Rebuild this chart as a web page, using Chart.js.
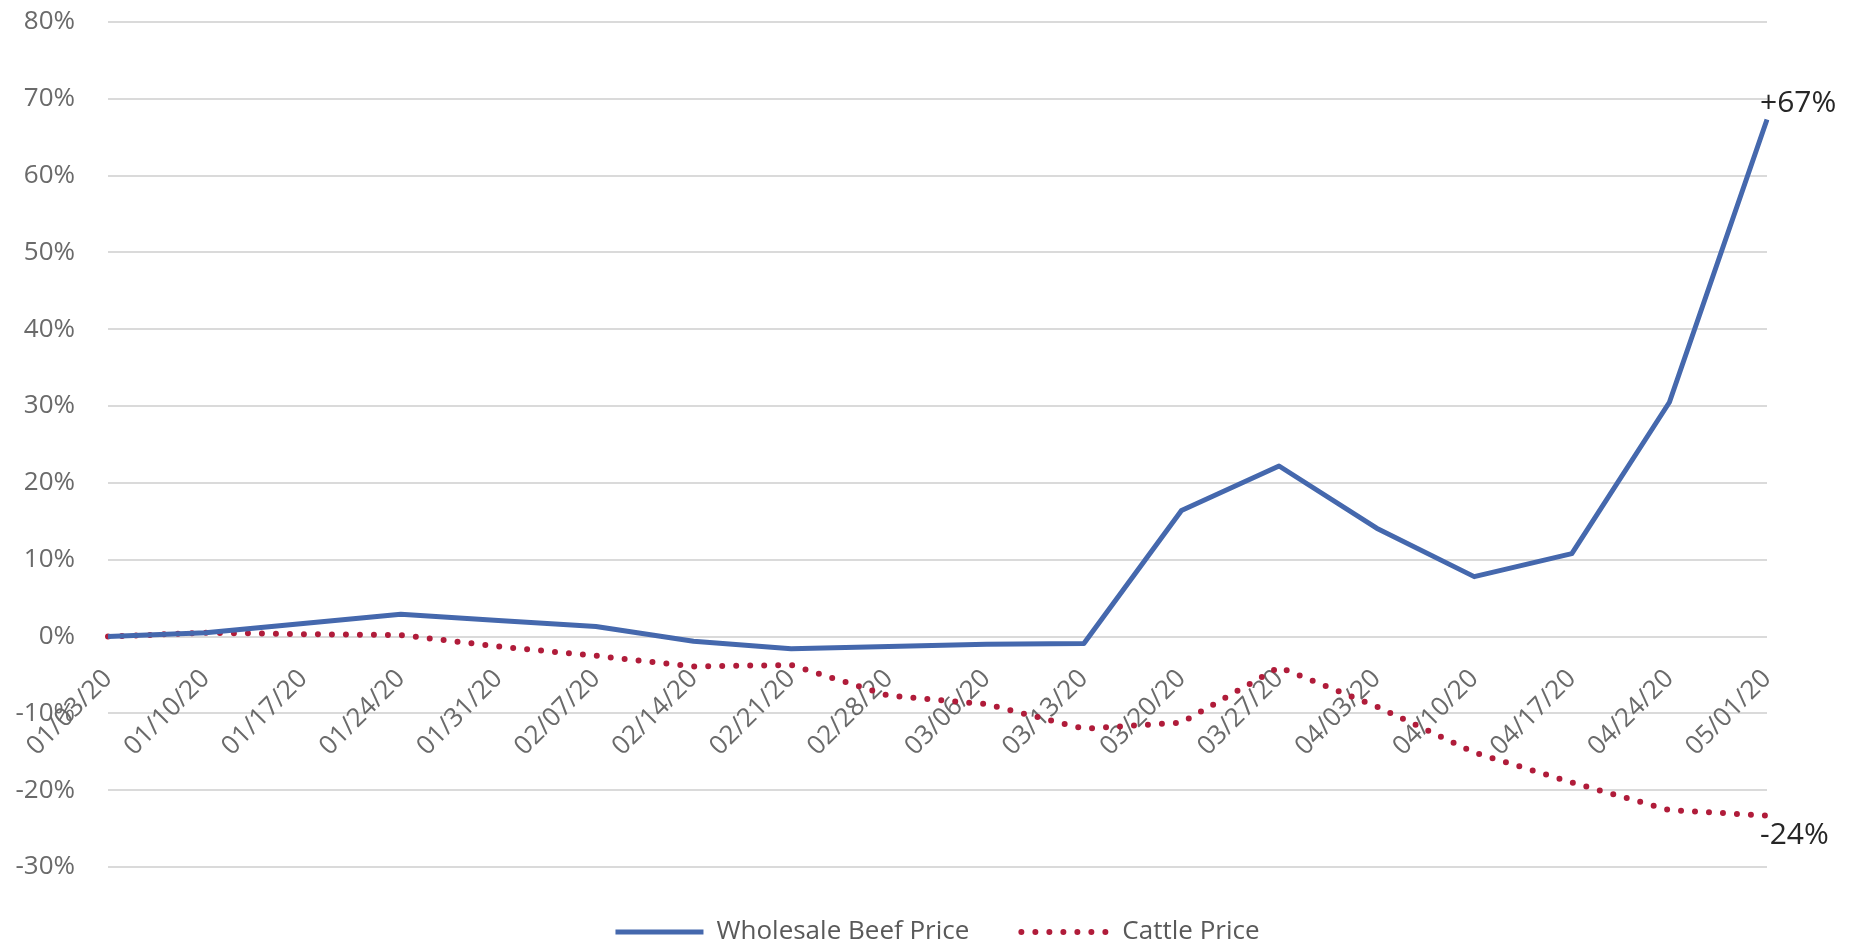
<!DOCTYPE html>
<html>
<head>
<meta charset="utf-8">
<script src="https://cdn.jsdelivr.net/npm/chart.js@4.4.1/dist/chart.umd.min.js"></script>
<style>
html,body{margin:0;padding:0;background:#ffffff;}
#wrap{width:1850px;height:947px;position:relative;}
</style>
</head>
<body>
<div id="wrap"><canvas id="c"></canvas></div>
<script>
const categories = ['01/03/20','01/10/20','01/17/20','01/24/20','01/31/20','02/07/20','02/14/20','02/21/20','02/28/20','03/06/20','03/13/20','03/20/20','03/27/20','04/03/20','04/10/20','04/17/20','04/24/20','05/01/20'];
const wholesaleBeef = [0, 0.5, 1.7, 2.9, 2.1, 1.3, -0.6, -1.6, -1.3, -1.0, -0.9, 16.4, 22.2, 14.1, 7.8, 10.8, 30.5, 67.3];
const cattle = [0, 0.5, 0.3, 0.2, -1.3, -2.5, -3.9, -3.7, -7.7, -8.8, -12.0, -11.2, -4.0, -9.1, -15.1, -19.0, -22.6, -23.3];
const seriesNames = ['Wholesale Beef Price', 'Cattle Price'];
const endLabels = ['+67%', '-24%'];
const yMin = -30, yMax = 80, yStep = 10;

Chart.defaults.font.family = "'Open Sans', sans-serif";

const endLabelPlugin = {
  id: 'endLabels',
  afterDatasetsDraw(chart) {
    const ctx = chart.ctx;
    ctx.save();
    ctx.font = "30px 'Open Sans', sans-serif";
    ctx.fillStyle = '#262626';
    ctx.textAlign = 'left';
    ctx.textBaseline = 'middle';
    chart.data.datasets.forEach((ds, i) => {
      const meta = chart.getDatasetMeta(i);
      const pt = meta.data[meta.data.length - 1];
      const dy = i === 0 ? -16 : 20;
      ctx.fillText(endLabels[i], pt.x - 7, pt.y + dy);
    });
    ctx.restore();
  }
};

new Chart(document.getElementById('c'), {
  type: 'line',
  data: {
    labels: categories,
    datasets: [
      {
        label: seriesNames[0],
        data: wholesaleBeef,
        borderColor: '#4568ad',
        borderWidth: 5,
        pointRadius: 0,
        tension: 0,
        fill: false,
        yAxisID: 'y',
        borderJoinStyle: 'round'
      },
      {
        label: seriesNames[1],
        data: cattle,
        borderColor: '#b01c3a',
        borderWidth: 6,
        borderDash: [0, 14],
        borderCapStyle: 'round',
        pointRadius: 0,
        tension: 0,
        fill: false,
        yAxisID: 'y'
      }
    ]
  },
  options: {
    responsive: true,
    maintainAspectRatio: false,
    animation: false,
    layout: { padding: { top: 22, left: 0, right: 83, bottom: -8 } },
    scales: {
      y: {
        type: 'linear',
        position: 'left',
        min: yMin,
        max: yMax,
        ticks: {
          stepSize: yStep,
          callback: v => v + '%',
          color: '#6a6a6a',
          font: { size: 26 },
          padding: 0
        },
        grid: { color: '#dadada', lineWidth: 2, drawTicks: true, tickLength: 33, tickColor: 'rgba(0,0,0,0)' },
        border: { display: false },
        afterFit(s) { s.width = 108; }
      },
      x: {
        type: 'category',
        position: { y: 0 },
        offset: false,
        grid: { display: false, drawTicks: false },
        border: { display: false },
        ticks: {
          autoSkip: false,
          minRotation: 45,
          maxRotation: 45,
          color: '#6a6a6a',
          font: { size: 26 },
          padding: 27
        }
      }
    },
    plugins: {
      tooltip: { enabled: false },
      legend: {
        display: true,
        position: 'bottom',
        fullSize: false,
        labels: {
          usePointStyle: true,
          pointStyleWidth: 88,
          boxHeight: 10,
          padding: 52,
          color: '#595959',
          font: { size: 26 },
          generateLabels(chart) {
            return chart.data.datasets.map((ds, i) => ({
              text: ds.label,
              fillStyle: 'rgba(0,0,0,0)',
              strokeStyle: ds.borderColor,
              lineWidth: ds.borderWidth,
              lineDash: ds.borderDash || [],
              lineCap: ds.borderCapStyle || 'butt',
              pointStyle: 'line',
              hidden: false,
              datasetIndex: i,
              fontColor: '#595959'
            }));
          }
        }
      }
    }
  },
  plugins: [endLabelPlugin]
});
</script>
</body>
</html>
